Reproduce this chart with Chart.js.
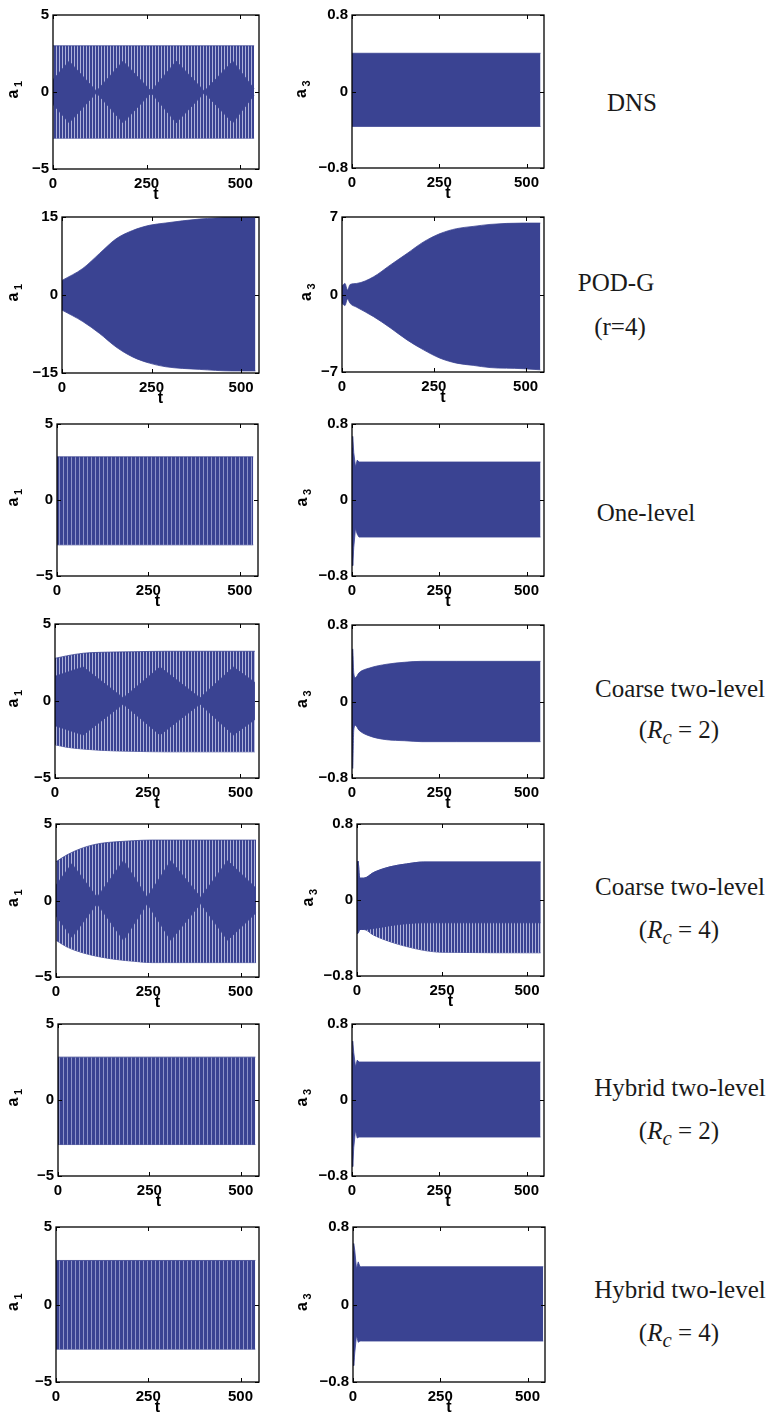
<!DOCTYPE html>
<html><head><meta charset="utf-8">
<script src="https://cdn.jsdelivr.net/npm/chart.js@4.4.0/dist/chart.umd.min.js"></script>
<style>
body{margin:0;background:#fff;width:768px;height:1413px;position:relative;overflow:hidden}
canvas{position:absolute}
.lbl{position:absolute;font-family:'Liberation Serif',serif;font-size:25px;color:#1a1a1a;transform:translate(-50%,-50%);white-space:nowrap}
</style></head><body>
<script>
// ---------------- data ----------------
const xTickValues = [0, 250, 500];
const xMax = 550;
const yA1Ticks = [-5, 0, 5];
const yPodA1Ticks = [-15, 0, 15];
const yPodA3Ticks = [-7, 0, 7];
const yA3Ticks = [-0.8, 0, 0.8];

// DNS
const tDnsA1 = [0, 537];
const dnsA1Hi = [3.0, 3.0];
const dnsA1Lo = [-3.0, -3.0];
const tDnsA1Core = [0, 43, 116, 187, 262, 329, 404, 480, 537];
const dnsA1CoreHi = [0.8, 2.0, 0.05, 2.0, 0.05, 2.0, 0.05, 2.0, 0.2];
const dnsA1CoreLo = [-0.8, -2.0, -0.05, -2.0, -0.05, -2.0, -0.05, -2.0, -0.2];
const tDnsA3 = [0, 540];
const dnsA3Hi = [0.40, 0.40];
const dnsA3Lo = [-0.365, -0.365];

// POD-G (r=4)
const tPodA1 = [0, 58, 105, 151, 197, 244, 290, 383, 475, 540];
const podA1Hi = [2.8, 5.1, 8.0, 10.8, 12.4, 13.4, 13.85, 14.6, 14.9, 14.9];
const podA1Lo = [-2.9, -5.1, -7.4, -10.0, -11.9, -13.1, -13.8, -14.3, -14.6, -14.6];
const tPodA3 = [0, 8, 15, 22, 40, 86, 131, 177, 222, 267, 312, 357, 403, 493, 540];
const podA3Hi = [0.76, 1.0, 0.4, 0.9, 1.0, 1.6, 2.65, 3.7, 4.75, 5.5, 5.95, 6.15, 6.33, 6.45, 6.45];
const podA3Lo = [-0.8, -1.0, -0.4, -0.8, -1.15, -2.0, -3.0, -4.1, -5.0, -5.75, -6.2, -6.4, -6.6, -6.7, -6.8];

// One-level
const tOneA1 = [0, 537];
const oneA1Hi = [2.84, 2.84];
const oneA1Lo = [-2.95, -2.95];
const tOneA3 = [0, 2, 5, 10, 15, 20, 540];
const oneA3Hi = [0.55, 0.67, 0.5, 0.35, 0.42, 0.40, 0.40];
const oneA3Lo = [-0.55, -0.69, -0.5, -0.3, -0.36, -0.39, -0.39];

// Coarse two-level (Rc=2)
const tC2A1 = [0, 31, 76, 121, 211, 300, 539];
const c2A1Hi = [2.77, 2.93, 3.1, 3.16, 3.2, 3.23, 3.23];
const c2A1Lo = [-2.84, -3.0, -3.12, -3.2, -3.27, -3.3, -3.3];
const tC2A1Core = [0, 76, 184, 283, 391, 481, 539];
const c2A1CoreHi = [1.6, 2.2, 0.2, 2.2, 0.2, 2.2, 1.2];
const c2A1CoreLo = [-1.6, -2.2, -0.2, -2.2, -0.2, -2.2, -1.2];
const tC2A3 = [0, 2, 5, 10, 20, 50, 100, 150, 200, 300, 540];
const c2A3Hi = [0.45, 0.55, 0.3, 0.25, 0.3, 0.35, 0.39, 0.41, 0.42, 0.42, 0.42];
const c2A3Lo = [-0.5, -0.7, -0.3, -0.25, -0.3, -0.36, -0.4, -0.41, -0.42, -0.42, -0.42];

// Coarse two-level (Rc=4)
const tC4A1 = [0, 29, 74, 120, 165, 210, 260, 542];
const c4A1Hi = [2.53, 2.97, 3.45, 3.73, 3.84, 3.91, 3.95, 3.95];
const c4A1Lo = [-2.6, -3.03, -3.43, -3.69, -3.86, -3.97, -4.06, -4.06];
const tC4A1Core = [0, 43, 111, 183, 247, 311, 392, 465, 542];
const c4A1CoreHi = [1.0, 2.4, 0.2, 2.6, 0.2, 2.6, 0.2, 2.6, 0.8];
const c4A1CoreLo = [-1.0, -2.4, -0.2, -2.6, -0.2, -2.6, -0.2, -2.6, -0.8];
const tC4A3 = [0, 3, 8, 20, 49, 98, 146, 196, 250, 540];
const c4A3Hi = [0.35, 0.41, 0.23, 0.23, 0.29, 0.35, 0.38, 0.40, 0.40, 0.40];
const c4A3Lo = [-0.35, -0.35, -0.31, -0.31, -0.37, -0.44, -0.49, -0.53, -0.55, -0.556];
const c4A3CoreLo = [-0.35, -0.35, -0.31, -0.31, -0.3, -0.27, -0.25, -0.24, -0.24, -0.24];

// Hybrid two-level (Rc=2)
const tH2A1 = [0, 540];
const h2A1Hi = [2.82, 2.82];
const h2A1Lo = [-2.93, -2.93];
const tH2A3 = [0, 2, 5, 10, 15, 20, 540];
const h2A3Hi = [0.5, 0.62, 0.5, 0.35, 0.42, 0.40, 0.40];
const h2A3Lo = [-0.55, -0.7, -0.5, -0.32, -0.4, -0.39, -0.39];

// Hybrid two-level (Rc=4)
const tH4A1 = [0, 540];
const h4A1Hi = [2.84, 2.84];
const h4A1Lo = [-2.88, -2.88];
const tH4A3 = [0, 2, 5, 10, 15, 20, 24, 545];
const h4A3Hi = [0.55, 0.63, 0.56, 0.37, 0.44, 0.39, 0.39, 0.39];
const h4A3Lo = [-0.55, -0.63, -0.5, -0.32, -0.39, -0.377, -0.377, -0.377];

// ---------------- styling ----------------
const DARK = '#3a4392';
function makePattern(darkW, lightW, lightCol) {
  const c = document.createElement('canvas');
  c.width = darkW + lightW; c.height = 1;
  const g = c.getContext('2d');
  g.fillStyle = DARK; g.fillRect(0, 0, darkW, 1);
  g.fillStyle = lightCol; g.fillRect(darkW, 0, lightW, 1);
  return g.createPattern(c, 'repeat');
}
const STRIPE = makePattern(2, 1, '#aeb2da');
const DENSE = makePattern(3, 1, '#8d93c9');

Chart.defaults.font.family = "'Liberation Sans', Arial, sans-serif";
Chart.defaults.color = '#000';

function band(t, hi, lo, fillStyle, smooth) {
  const common = {borderColor: DARK, borderWidth: 0.8, pointRadius: 0,
    tension: smooth ? 0.4 : 0, cubicInterpolationMode: smooth ? 'monotone' : 'default'};
  return [
    Object.assign({data: t.map((x, i) => ({x, y: hi[i]})), fill: '+1', backgroundColor: fillStyle}, common),
    Object.assign({data: t.map((x, i) => ({x, y: lo[i]})), fill: false}, common)
  ];
}
function fmt(v) {
  return (v < 0 ? '\u2212' : '') + String(Math.abs(v));
}

function makePlot(p) {
  const cv = document.createElement('canvas');
  const cLeft = p.col === 0 ? 0 : 290;
  const cW = 270, padTop = 14, bottomH = 42;
  const cTop = p.t - padTop;
  const cH = (p.b - p.t) + padTop + bottomH;
  cv.width = cW; cv.height = cH;
  cv.style.left = cLeft + 'px'; cv.style.top = cTop + 'px';
  document.body.appendChild(cv);
  const plotL = p.l - cLeft, plotR = p.r - cLeft;
  const yMin = p.yTicks[0], yMaxV = p.yTicks[p.yTicks.length - 1];
  const datasets = [];
  p.bands.forEach(b => datasets.push(...band(b[0], b[1], b[2], b[3], b[4])));
  const frame = {
    id: 'frame',
    afterDraw(chart) {
      const ctx = chart.ctx, a = chart.chartArea;
      const xs = chart.scales.x, ys = chart.scales.y;
      ctx.save();
      ctx.strokeStyle = '#000'; ctx.lineWidth = 1.3;
      ctx.strokeRect(a.left, a.top, a.right - a.left, a.bottom - a.top);
      ctx.lineWidth = 1;
      ctx.beginPath();
      xTickValues.forEach(v => {
        const x = Math.round(xs.getPixelForValue(v)) + 0.5;
        ctx.moveTo(x, a.bottom); ctx.lineTo(x, a.bottom - 4);
        ctx.moveTo(x, a.top); ctx.lineTo(x, a.top + 4);
      });
      p.yTicks.forEach(v => {
        const y = Math.round(ys.getPixelForValue(v)) + 0.5;
        ctx.moveTo(a.left, y); ctx.lineTo(a.left + 4, y);
        ctx.moveTo(a.right, y); ctx.lineTo(a.right - 4, y);
      });
      ctx.stroke();
      ctx.fillStyle = '#000';
      ctx.font = "bold 16px 'Liberation Sans', Arial, sans-serif";
      ctx.textAlign = 'center'; ctx.textBaseline = 'middle';
      ctx.fillText('t', (a.left + a.right) / 2, a.bottom + 26);
      const yc = (a.top + a.bottom) / 2;
      ctx.translate(p.tx, yc + 2);
      ctx.rotate(-Math.PI / 2);
      ctx.font = "bold 16px 'Liberation Sans', Arial, sans-serif";
      ctx.fillText('a', 0, 0);
      ctx.font = "bold 11px 'Liberation Sans', Arial, sans-serif";
      ctx.fillText(p.sub, 10, 5);
      ctx.restore();
    }
  };
  new Chart(cv, {
    type: 'line',
    data: {datasets},
    options: {
      responsive: false, animation: false, events: [],
      layout: {padding: {top: padTop, right: cW - plotR, left: 0, bottom: 0}},
      plugins: {legend: {display: false}, tooltip: {enabled: false}},
      scales: {
        x: {
          type: 'linear', min: 0, max: xMax,
          grid: {display: false, drawTicks: false}, border: {display: false},
          afterBuildTicks: s => { s.ticks = xTickValues.map(v => ({value: v})); },
          afterFit: s => { s.height = bottomH; },
          ticks: {padding: 6, maxRotation: 0, font: {size: 15, weight: 'bold'},
                  callback: v => fmt(v)}
        },
        y: {
          type: 'linear', min: yMin, max: yMaxV,
          grid: {display: false, drawTicks: false}, border: {display: false},
          afterBuildTicks: s => { s.ticks = p.yTicks.map(v => ({value: v})); },
          afterFit: s => { s.width = plotL; },
          ticks: {padding: 4, font: {size: 15, weight: 'bold'}, callback: v => fmt(v)}
        }
      }
    },
    plugins: [frame]
  });
}

const plots = [
  {col: 0, l: 53, t: 15, r: 259, b: 169, yTicks: yA1Ticks, sub: '1', tx: 14,
   bands: [[tDnsA1Core, dnsA1CoreHi, dnsA1CoreLo, DARK], [tDnsA1, dnsA1Hi, dnsA1Lo, STRIPE]]},
  {col: 1, l: 352, t: 15, r: 544, b: 168, yTicks: yA3Ticks, sub: '3', tx: 12,
   bands: [[tDnsA3, dnsA3Hi, dnsA3Lo, DARK]]},
  {col: 0, l: 62, t: 217, r: 259, b: 373, yTicks: yPodA1Ticks, sub: '1', tx: 14,
   bands: [[tPodA1, podA1Hi, podA1Lo, DARK, true]]},
  {col: 1, l: 342, t: 217, r: 544, b: 372, yTicks: yPodA3Ticks, sub: '3', tx: 17,
   bands: [[tPodA3, podA3Hi, podA3Lo, DARK, true]]},
  {col: 0, l: 57, t: 424, r: 258, b: 576, yTicks: yA1Ticks, sub: '1', tx: 14,
   bands: [[tOneA1, oneA1Hi, oneA1Lo, DENSE]]},
  {col: 1, l: 352, t: 424, r: 544, b: 576, yTicks: yA3Ticks, sub: '3', tx: 13,
   bands: [[tOneA3, oneA3Hi, oneA3Lo, DARK]]},
  {col: 0, l: 55, t: 624, r: 259, b: 778, yTicks: yA1Ticks, sub: '1', tx: 14,
   bands: [[tC2A1Core, c2A1CoreHi, c2A1CoreLo, DARK], [tC2A1, c2A1Hi, c2A1Lo, STRIPE, true]]},
  {col: 1, l: 352, t: 625, r: 544, b: 778, yTicks: yA3Ticks, sub: '3', tx: 13,
   bands: [[tC2A3, c2A3Hi, c2A3Lo, DARK, true]]},
  {col: 0, l: 56, t: 824, r: 259, b: 977, yTicks: yA1Ticks, sub: '1', tx: 14,
   bands: [[tC4A1Core, c4A1CoreHi, c4A1CoreLo, DARK], [tC4A1, c4A1Hi, c4A1Lo, STRIPE, true]]},
  {col: 1, l: 357, t: 824, r: 544, b: 976, yTicks: yA3Ticks, sub: '3', tx: 19,
   bands: [[tC4A3, c4A3Hi, c4A3CoreLo, DARK, true], [tC4A3, c4A3Hi, c4A3Lo, STRIPE, true]]},
  {col: 0, l: 58, t: 1024, r: 259, b: 1176, yTicks: yA1Ticks, sub: '1', tx: 14,
   bands: [[tH2A1, h2A1Hi, h2A1Lo, DENSE]]},
  {col: 1, l: 352, t: 1024, r: 544, b: 1176, yTicks: yA3Ticks, sub: '3', tx: 13,
   bands: [[tH2A3, h2A3Hi, h2A3Lo, DARK]]},
  {col: 0, l: 56, t: 1227, r: 259, b: 1382, yTicks: yA1Ticks, sub: '1', tx: 14,
   bands: [[tH4A1, h4A1Hi, h4A1Lo, DENSE]]},
  {col: 1, l: 353, t: 1227, r: 545, b: 1382, yTicks: yA3Ticks, sub: '3', tx: 13,
   bands: [[tH4A3, h4A3Hi, h4A3Lo, DARK]]}
];
plots.forEach(makePlot);

const labels = [
  ['DNS', 632, 103], ['POD-G', 616, 283], ['(r=4)', 620, 327], ['One-level', 646, 513],
  ['Coarse two-level', 680, 689], ['(<i>R<sub>c</sub></i> = 2)', 679, 733],
  ['Coarse two-level', 680, 887], ['(<i>R<sub>c</sub></i> = 4)', 679, 933],
  ['Hybrid two-level', 680, 1088], ['(<i>R<sub>c</sub></i> = 2)', 679, 1134],
  ['Hybrid two-level', 680, 1290], ['(<i>R<sub>c</sub></i> = 4)', 679, 1336]
];
labels.forEach(([txt, x, y]) => {
  const d = document.createElement('div');
  d.className = 'lbl'; d.innerHTML = txt;
  d.style.left = x + 'px'; d.style.top = y + 'px';
  document.body.appendChild(d);
});
</script>
</body></html>
